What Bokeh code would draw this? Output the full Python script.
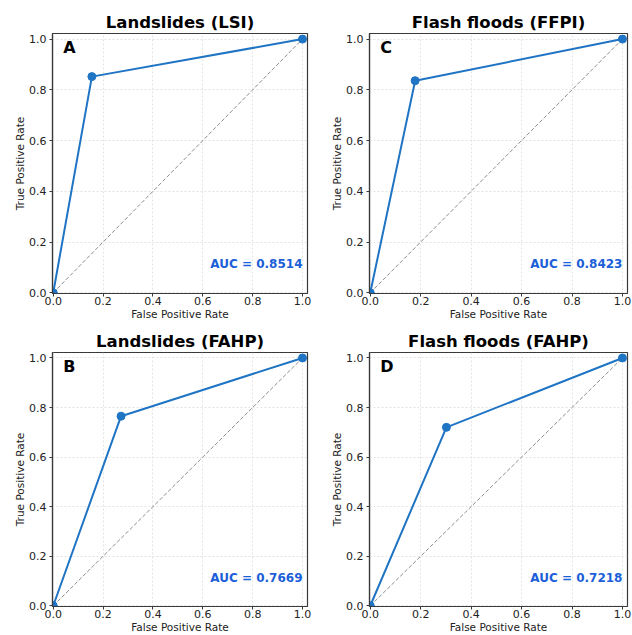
from bokeh.plotting import figure
from bokeh.layouts import gridplot
from bokeh.models import Range1d, FixedTicker, ColumnDataSource
from bokeh.core.properties import value
from bokeh.embed import file_html
from bokeh.resources import INLINE

# ---- data ----
panel_titles = ["Landslides (LSI)", "Flash floods (FFPI)", "Landslides (FAHP)", "Flash floods (FAHP)"]
panel_letters = ["A", "C", "B", "D"]
fpr_A = [0.0, 0.155, 1.0]
tpr_A = [0.0, 0.852, 1.0]
fpr_C = [0.0, 0.178, 1.0]
tpr_C = [0.0, 0.836, 1.0]
fpr_B = [0.0, 0.272, 1.0]
tpr_B = [0.0, 0.765, 1.0]
fpr_D = [0.0, 0.302, 1.0]
tpr_D = [0.0, 0.720, 1.0]
auc_values = [0.8514, 0.8423, 0.7669, 0.7218]
diag_x = [0.0, 1.0]
diag_y = [0.0, 1.0]
tick_values = [0.0, 0.2, 0.4, 0.6, 0.8, 1.0]
tick_labels = ["0.0", "0.2", "0.4", "0.6", "0.8", "1.0"]
x_label = "False Positive Rate"
y_label = "True Positive Rate"

FONT = "DejaVu Sans"
LINE_BLUE = "#1f74c4"
AUC_BLUE = "#1c5fd8"
FRAME = "#3a3a3a"


def make_panel(title, letter, fpr, tpr, auc, width, height, bl, br, bt, bb):
    p = figure(width=width, height=height, output_backend="svg", toolbar_location=None,
               x_range=Range1d(-0.003, 1.02), y_range=Range1d(-0.003, 1.022),
               min_border_left=bl, min_border_right=br, min_border_top=bt, min_border_bottom=bb,
               background_fill_color="white", border_fill_color="white")
    p.title.text = title
    p.title.text_font = FONT
    p.title.text_font_size = "16.5px"
    p.title.text_font_style = "bold"
    p.title.text_color = "black"
    p.title.align = "center"
    p.title.standoff = 3
    p.outline_line_color = FRAME
    p.outline_line_width = 1.2
    p.outline_line_alpha = 1.0
    label_map = {t: l for t, l in zip(tick_values, tick_labels)}
    for ax in (p.xaxis[0], p.yaxis[0]):
        ax.ticker = FixedTicker(ticks=tick_values)
        ax.major_label_overrides = label_map
        ax.minor_tick_line_color = None
        ax.major_tick_in = 0
        ax.major_tick_out = 3
        ax.major_tick_line_color = FRAME
        ax.axis_line_color = FRAME
        ax.axis_line_width = 1.2
        ax.major_label_text_font = FONT
        ax.major_label_text_font_size = "11px"
        ax.major_label_text_color = "#222222"
        ax.axis_label_text_font = FONT
        ax.axis_label_text_font_size = "10.5px"
        ax.axis_label_text_font_style = "normal"
        ax.axis_label_text_color = "#222222"
        ax.axis_label_standoff = 0
    p.xaxis.major_label_standoff = 0
    p.yaxis.major_label_standoff = 3
    p.xaxis.axis_label = x_label
    p.yaxis.axis_label = y_label
    p.yaxis.major_label_orientation = "horizontal"
    for g in (p.xgrid[0], p.ygrid[0]):
        g.ticker = FixedTicker(ticks=tick_values)
        g.grid_line_color = "#d9d9d9"
        g.grid_line_dash = "2 2"
        g.grid_line_alpha = 0.9
        g.grid_line_width = 0.8

    p.line(diag_x, diag_y, line_color="#808080", line_width=0.9, line_dash="4 2")
    p.line(fpr, tpr, line_color=LINE_BLUE, line_width=2)
    p.scatter(fpr, tpr, size=8, fill_color=LINE_BLUE, line_color=LINE_BLUE)

    src_letter = ColumnDataSource(dict(x=[0.04], y=[0.966], t=[letter]))
    p.text(x="x", y="y", text="t", source=src_letter, text_font=value(FONT),
           text_font_size="16px", text_font_style="bold", text_color="black",
           text_align="left", text_baseline="middle")
    src_auc = ColumnDataSource(dict(x=[1.0], y=[0.114], t=["AUC = %.4f" % auc]))
    p.text(x="x", y="y", text="t", source=src_auc, text_font=value(FONT),
           text_font_size="12px", text_font_style="bold", text_color=AUC_BLUE,
           text_align="right", text_baseline="middle")
    return p


pA = make_panel(panel_titles[0], panel_letters[0], fpr_A, tpr_A, auc_values[0], 316, 322, 52, 9, 33, 29)
pC = make_panel(panel_titles[1], panel_letters[1], fpr_C, tpr_C, auc_values[1], 316, 322, 53, 5, 33, 29)
pB = make_panel(panel_titles[2], panel_letters[2], fpr_B, tpr_B, auc_values[2], 316, 313, 52, 9, 30, 27)
pD = make_panel(panel_titles[3], panel_letters[3], fpr_D, tpr_D, auc_values[3], 316, 313, 53, 5, 30, 27)

p = gridplot([[pA, pC], [pB, pD]], toolbar_location=None)

open("out.html", "w").write(file_html(p, INLINE))
